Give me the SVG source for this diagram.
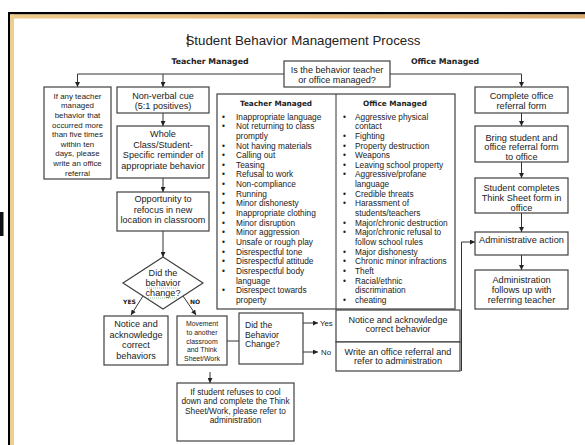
<svg xmlns="http://www.w3.org/2000/svg" width="585" height="445" viewBox="0 0 585 445">
<style>
.bx{fill:#fff;stroke:#404040;stroke-width:1.2}
.ln{fill:none;stroke:#333;stroke-width:1}
.ar{fill:none;stroke:#333;stroke-width:1;marker-end:url(#ah)}
.t{font-family:"Liberation Sans",Arial,sans-serif;fill:#222;text-anchor:middle}
.tl{font-family:"Liberation Sans",Arial,sans-serif;fill:#222}
.b{font-family:"DejaVu Sans",Verdana,sans-serif;font-weight:bold;fill:#222;text-anchor:middle}
.s91{font-size:9.1px}
.s83{font-size:8.3px}
</style>
<defs>
<marker id="ah" markerUnits="userSpaceOnUse" markerWidth="5" markerHeight="5" refX="5" refY="2.5" orient="auto">
<path d="M0,0 L5,2.5 L0,5 z" fill="#222"/>
</marker>
<linearGradient id="tanTop" x1="0" y1="0" x2="1" y2="0">
<stop offset="0" stop-color="#EFCB8A"/>
<stop offset="1" stop-color="#DCA96C"/>
</linearGradient>
</defs>
<rect x="0" y="0" width="585" height="445" fill="#fff"/>
<g id="frame">
<rect x="8" y="12" width="577" height="2.5" fill="#000"/>
<rect x="8" y="12" width="2.2" height="433" fill="#000"/>
<rect x="10.2" y="14.5" width="574.8" height="4" fill="url(#tanTop)"/>
<rect x="10.2" y="14.5" width="3.8" height="430.5" fill="#F0CE8C"/>
<rect x="0" y="212" width="3.5" height="24" fill="#111"/>
</g>
<g id="title">
<text class="t" x="303" y="45" style="font-size:13.3px">Student Behavior Management Process</text>
<line x1="188" y1="34" x2="188" y2="47" stroke="#000" stroke-width="0.9"/>
<text class="b" x="210" y="64" style="font-size:7.8px">Teacher Managed</text>
<text class="b" x="445" y="64" style="font-size:7.8px">Office Managed</text>
</g>
<g id="connectors">
<path class="ln" d="M77.5,74 H284 M390,74 H521.5"/>
<path class="ar" d="M77.5,74 V87"/>
<path class="ar" d="M163,74 V87"/>
<path class="ar" d="M521.5,74 V87"/>
<path class="ar" d="M163,113 V126"/>
<path class="ar" d="M163,178 V192"/>
<path class="ar" d="M163,231 V257"/>
<path class="ar" d="M143,296 L131,315"/>
<path class="ar" d="M183,296 L196,315"/>
<path class="ln" d="M227,341 H239"/>
<path class="ar" d="M303,323 H318"/>
<path class="ar" d="M303,352 H318"/>
<path class="ar" d="M210,372 V383"/>
<path class="ar" d="M461.5,371 V242 H475"/>
<path class="ar" d="M521.5,113 V126"/>
<path class="ar" d="M521.5,162 V178"/>
<path class="ar" d="M521.5,213 V232"/>
<path class="ar" d="M521.5,255 V270"/>
</g>
<g id="question">
<rect class="bx" x="284" y="61" width="106" height="26"/>
<text class="t s91" x="337" y="73">Is the behavior teacher</text>
<text class="t s91" x="337" y="83">or office managed?</text>
</g>
<g id="anyTeacher">
<rect class="bx" x="44" y="87" width="67" height="92"/>
<g class="t" style="font-size:7.9px">
<text x="77.5" y="98.7">If any teacher</text>
<text x="77.5" y="108.3">managed</text>
<text x="77.5" y="117.9">behavior that</text>
<text x="77.5" y="127.5">occurred more</text>
<text x="77.5" y="137.1">than five times</text>
<text x="77.5" y="146.7">within ten</text>
<text x="77.5" y="156.3">days, please</text>
<text x="77.5" y="165.9">write an office</text>
<text x="77.5" y="175.5">referral</text>
</g>
</g>
<g id="nonVerbal">
<rect class="bx" x="117" y="87" width="92" height="26"/>
<text class="t s91" x="163" y="99">Non-verbal cue</text>
<text class="t s91" x="163" y="109">(5:1 positives)</text>
</g>
<g id="wholeClass">
<rect class="bx" x="117" y="126" width="92" height="52"/>
<text class="t s91" x="163" y="137.2">Whole</text>
<text class="t s91" x="163" y="147.7">Class/Student-</text>
<text class="t s91" x="163" y="158.2">Specific reminder of</text>
<text class="t s91" x="163" y="168.7">appropriate behavior</text>
</g>
<g id="opportunity">
<rect class="bx" x="117" y="192" width="92" height="39"/>
<text class="t s91" x="163" y="202.2">Opportunity to</text>
<text class="t s91" x="163" y="212.7">refocus in new</text>
<text class="t s91" x="163" y="223.2">location in classroom</text>
</g>
<g id="diamond">
<polygon class="bx" points="163,257 203,283 163,309 123,283"/>
<text class="t s91" x="163" y="276">Did the</text>
<text class="t s91" x="163" y="286">behavior</text>
<text class="t s91" x="163" y="296">change?</text>
<path d="M147,288 H179 M148,298 H178" stroke="#6a6" stroke-width="0.7" stroke-dasharray="1,1" fill="none"/>
<text class="b" x="129.5" y="303.5" style="font-size:6px">YES</text>
<text class="b" x="195" y="303.5" style="font-size:6px">NO</text>
</g>
<g id="noticeLeft">
<rect class="bx" x="104" y="316" width="64" height="49"/>
<text class="t s91" x="136" y="327.3">Notice and</text>
<text class="t s91" x="136" y="337.9">acknowledge</text>
<text class="t s91" x="136" y="348.3">correct</text>
<text class="t s91" x="136" y="358.9">behaviors</text>
</g>
<g id="movement">
<rect class="bx" x="177" y="316" width="50" height="49"/>
<g class="t" style="font-size:6.9px">
<text x="202" y="325.5">Movement</text>
<text x="202" y="334.5">to another</text>
<text x="202" y="343.5">classroom</text>
<text x="202" y="351.5">and Think</text>
<text x="202" y="360.5">Sheet/Work</text>
</g>
</g>
<g id="didChange">
<rect class="bx" x="239" y="313" width="64" height="51"/>
<text class="tl" x="245" y="328" style="font-size:8.6px">Did the</text>
<text class="tl" x="245" y="337.6" style="font-size:8.6px">Behavior</text>
<text class="tl" x="245" y="347.2" style="font-size:8.6px">Change?</text>
<text class="tl" x="320" y="326" style="font-size:7.8px">Yes</text>
<text class="tl" x="321" y="355" style="font-size:7.8px">No</text>
</g>
<g id="noticeRight">
<rect class="bx" x="336" y="310" width="124" height="32"/>
<text class="t s91" x="398" y="323">Notice and acknowledge</text>
<text class="t s91" x="398" y="332.3">correct behavior</text>
</g>
<g id="writeReferral">
<rect class="bx" x="336" y="342" width="124" height="29"/>
<text class="t s91" x="398" y="355">Write an office referral and</text>
<text class="t s91" x="398" y="364.3">refer to administration</text>
</g>
<g id="table">
<rect class="bx" x="217" y="94" width="238" height="215"/>
<line class="ln" x1="336" y1="94" x2="336" y2="309" stroke="#404040"/>
<text class="b" x="276" y="105.7" style="font-size:7.3px">Teacher Managed</text>
<text class="b" x="395" y="105.7" style="font-size:7.3px">Office Managed</text>
<g class="tl s83">
<text x="222" y="119.5">•</text><text x="236" y="119.5">Inappropriate language</text>
<text x="222" y="129.2">•</text><text x="236" y="129.2">Not returning to class</text>
<text x="236" y="138.8">promptly</text>
<text x="222" y="148.5">•</text><text x="236" y="148.5">Not having materials</text>
<text x="222" y="158.1">•</text><text x="236" y="158.1">Calling out</text>
<text x="222" y="167.8">•</text><text x="236" y="167.8">Teasing</text>
<text x="222" y="177.4">•</text><text x="236" y="177.4">Refusal to work</text>
<text x="222" y="187.1">•</text><text x="236" y="187.1">Non-compliance</text>
<text x="222" y="196.7">•</text><text x="236" y="196.7">Running</text>
<text x="222" y="206.4">•</text><text x="236" y="206.4">Minor dishonesty</text>
<text x="222" y="216">•</text><text x="236" y="216">Inappropriate clothing</text>
<text x="222" y="225.7">•</text><text x="236" y="225.7">Minor disruption</text>
<text x="222" y="235.3">•</text><text x="236" y="235.3">Minor aggression</text>
<text x="222" y="245">•</text><text x="236" y="245">Unsafe or rough play</text>
<text x="222" y="254.6">•</text><text x="236" y="254.6">Disrespectful tone</text>
<text x="222" y="264.3">•</text><text x="236" y="264.3">Disrespectful attitude</text>
<text x="222" y="273.9">•</text><text x="236" y="273.9">Disrespectful body</text>
<text x="236" y="283.6">language</text>
<text x="222" y="293.2">•</text><text x="236" y="293.2">Disrespect towards</text>
<text x="236" y="302.9">property</text>
</g>
<g class="tl s83">
<text x="343" y="119.5">•</text><text x="355" y="119.5">Aggressive physical</text>
<text x="355" y="129.2">contact</text>
<text x="343" y="138.8">•</text><text x="355" y="138.8">Fighting</text>
<text x="343" y="148.5">•</text><text x="355" y="148.5">Property destruction</text>
<text x="343" y="158.1">•</text><text x="355" y="158.1">Weapons</text>
<text x="343" y="167.8">•</text><text x="355" y="167.8">Leaving school property</text>
<text x="343" y="177.4">•</text><text x="355" y="177.4">Aggressive/profane</text>
<text x="355" y="187.1">language</text>
<text x="343" y="196.7">•</text><text x="355" y="196.7">Credible threats</text>
<text x="343" y="206.4">•</text><text x="355" y="206.4">Harassment of</text>
<text x="355" y="216">students/teachers</text>
<text x="343" y="225.7">•</text><text x="355" y="225.7">Major/chronic destruction</text>
<text x="343" y="235.3">•</text><text x="355" y="235.3">Major/chronic refusal to</text>
<text x="355" y="245">follow school rules</text>
<text x="343" y="254.6">•</text><text x="355" y="254.6">Major dishonesty</text>
<text x="343" y="264.3">•</text><text x="355" y="264.3">Chronic minor infractions</text>
<text x="343" y="273.9">•</text><text x="355" y="273.9">Theft</text>
<text x="343" y="283.6">•</text><text x="355" y="283.6">Racial/ethnic</text>
<text x="355" y="293.2">discrimination</text>
<text x="343" y="302.9">•</text><text x="355" y="302.9">cheating</text>
</g>
</g>
<g id="completeForm">
<rect class="bx" x="475" y="87" width="93" height="26"/>
<text class="t" x="521.5" y="99.3" style="font-size:9.2px">Complete office</text>
<text class="t" x="521.5" y="109.3" style="font-size:9.2px">referral form</text>
</g>
<g id="bringStudent">
<rect class="bx" x="475" y="126" width="93" height="36"/>
<text class="t" x="521.5" y="140.5" style="font-size:9.2px">Bring student and</text>
<text class="t" x="521.5" y="150.2" style="font-size:9.2px">office referral form</text>
<text class="t" x="521.5" y="159.9" style="font-size:9.2px">to office</text>
</g>
<g id="thinkSheet">
<rect class="bx" x="475" y="178" width="93" height="35"/>
<text class="t" x="521.5" y="190.5" style="font-size:9.2px">Student completes</text>
<text class="t" x="521.5" y="200.5" style="font-size:9.2px">Think Sheet form in</text>
<text class="t" x="521.5" y="210.8" style="font-size:9.2px">office</text>
</g>
<g id="adminAction">
<rect class="bx" x="475" y="232" width="93" height="23"/>
<text class="t" x="521.5" y="243.3" style="font-size:9.2px">Administrative action</text>
</g>
<g id="adminFollow">
<rect class="bx" x="475" y="270" width="93" height="39"/>
<text class="t" x="521.5" y="282.5" style="font-size:9.2px">Administration</text>
<text class="t" x="521.5" y="292.5" style="font-size:9.2px">follows up with</text>
<text class="t" x="521.5" y="303" style="font-size:9.2px">referring teacher</text>
</g>
<g id="refuses">
<rect class="bx" x="177" y="383" width="117" height="58"/>
<text class="t s83" x="235.5" y="395">If student refuses to cool</text>
<text class="t s83" x="235.5" y="404.3">down and complete the Think</text>
<text class="t s83" x="235.5" y="413.6">Sheet/Work, please refer to</text>
<text class="t s83" x="235.5" y="423">administration</text>
</g>
</svg>
